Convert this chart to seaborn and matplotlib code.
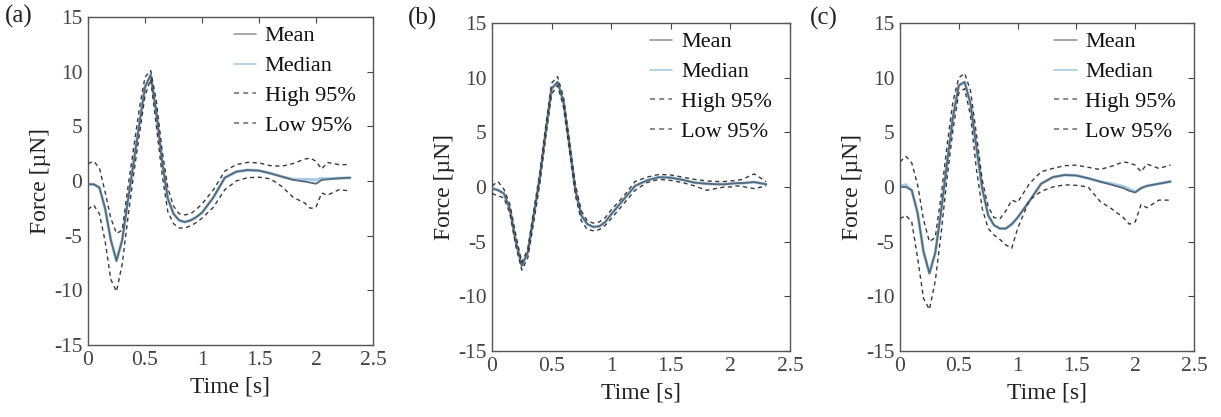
import numpy as np
import pandas as pd
import seaborn as sns
import matplotlib.pyplot as plt

# shared time base (s)
time = [0, .05, .1, .15, .2, .25, .3, .35, .4, .45, .5, .55, .6, .65, .7, .75, .8, .85, .9, .95,
        1.0, 1.1, 1.2, 1.3, 1.4, 1.5, 1.6, 1.7, 1.8, 1.9, 1.95, 2.0, 2.05, 2.1, 2.2, 2.3]

# panel (a)
mean_a = [-0.3, -0.3, -0.6, -2.5, -5.4, -7.3, -5.4, -1.8, 1.7, 5.2, 8.6, 9.7, 6.2, 1.8, -1.6, -3.0,
          -3.6, -3.75, -3.6, -3.3, -2.9, -1.5, 0.3, 0.85, 1.0, 0.95, 0.7, 0.4, 0.1, -0.05, -0.15, -0.25,
          0.1, 0.15, 0.25, 0.3]
median_a = [-0.3, -0.3, -0.6, -2.5, -5.4, -7.3, -5.4, -1.8, 1.7, 5.2, 8.6, 9.7, 6.2, 1.8, -1.6, -3.0,
            -3.6, -3.75, -3.6, -3.3, -2.9, -1.5, 0.3, 0.85, 1.0, 0.95, 0.7, 0.4, 0.15, 0.15, 0.15, 0.1,
            0.25, 0.2, 0.25, 0.3]
high_a = [1.6, 1.8, 1.2, -1.0, -3.4, -4.8, -4.5, -0.6, 3.0, 6.6, 9.5, 10.1, 7.3, 2.8, -0.6, -2.3,
          -3.0, -3.1, -3.0, -2.6, -2.1, -0.8, 0.9, 1.5, 1.7, 1.65, 1.4, 1.35, 1.6, 2.0, 2.1, 1.8,
          1.1, 1.7, 1.5, 1.5]
low_a = [-2.6, -2.2, -3.0, -5.5, -9.0, -10.1, -7.6, -3.4, 0.6, 4.2, 7.8, 9.3, 5.0, 0.6, -2.8, -3.9,
         -4.3, -4.3, -4.1, -3.8, -3.4, -2.4, -0.8, 0.0, 0.3, 0.35, 0.2, -0.5, -1.5, -2.0, -2.5, -2.4,
         -1.1, -1.3, -0.8, -0.9]

# panel (b)
mean_b = [-0.15, -0.3, -0.6, -2.0, -5.0, -7.2, -6.0, -2.6, 0.8, 5.0, 9.0, 9.6, 7.8, 3.8, -0.3, -2.6,
          -3.4, -3.65, -3.6, -3.2, -2.5, -1.2, 0.1, 0.6, 0.9, 0.85, 0.65, 0.4, 0.3, 0.25, 0.25, 0.3,
          0.35, 0.35, 0.45, 0.25]
median_b = [-0.1, -0.25, -0.6, -2.0, -5.0, -7.2, -6.0, -2.6, 0.8, 5.0, 9.0, 9.6, 7.8, 3.8, -0.3, -2.6,
            -3.4, -3.65, -3.6, -3.2, -2.5, -1.2, 0.1, 0.6, 0.9, 0.85, 0.65, 0.4, 0.3, 0.25, 0.25, 0.3,
            0.35, 0.35, 0.45, 0.25]
high_b = [0.1, 0.5, -0.2, -1.6, -4.4, -6.9, -5.7, -2.2, 1.2, 5.5, 9.5, 10.1, 8.2, 4.2, 0.2, -2.2,
          -3.1, -3.3, -3.2, -2.8, -2.1, -0.9, 0.5, 0.9, 1.15, 1.1, 0.9, 0.7, 0.55, 0.5, 0.5, 0.55,
          0.6, 0.7, 1.2, 0.5]
low_b = [-0.6, -0.8, -1.0, -2.4, -5.4, -7.6, -6.5, -3.2, 0.2, 4.5, 8.5, 9.3, 7.3, 3.3, -0.8, -3.1,
         -3.9, -4.0, -3.9, -3.5, -2.9, -1.6, -0.3, 0.4, 0.7, 0.6, 0.4, 0.1, -0.3, -0.1, 0.0, 0.0,
         0.1, 0.05, -0.15, 0.1]

# panel (c)
mean_c = [0.0, 0.0, -0.3, -2.4, -5.9, -7.9, -6.0, -2.2, 2.2, 6.4, 9.3, 9.6, 7.6, 3.6, -0.2, -2.6,
          -3.5, -3.8, -3.8, -3.4, -2.8, -1.3, 0.3, 0.9, 1.1, 1.05, 0.8, 0.5, 0.2, -0.1, -0.35, -0.5,
          -0.1, 0.1, 0.3, 0.5]
median_c = [0.1, 0.2, -0.3, -2.4, -5.9, -7.9, -6.0, -2.2, 2.2, 6.4, 9.3, 9.6, 7.6, 3.6, -0.2, -2.6,
            -3.5, -3.8, -3.8, -3.4, -2.8, -1.3, 0.3, 0.9, 1.1, 1.05, 0.8, 0.5, 0.3, 0.05, -0.2, -0.45,
            -0.1, 0.1, 0.3, 0.5]
high_c = [2.3, 2.8, 2.2, 0.2, -3.0, -5.0, -4.6, -0.8, 3.8, 7.8, 10.0, 10.4, 8.8, 4.8, 0.6, -1.8,
          -2.8, -2.9, -2.2, -1.2, -1.4, 0.3, 1.4, 1.7, 1.95, 2.0, 1.8, 1.6, 1.9, 2.3, 2.2, 2.0,
          1.4, 2.1, 1.7, 2.0]
low_c = [-2.9, -2.6, -3.2, -6.5, -10.2, -11.2, -8.6, -4.2, 0.8, 5.2, 8.6, 9.0, 6.5, 1.6, -2.0, -3.8,
         -4.4, -4.8, -5.3, -5.6, -3.8, -1.2, -0.4, 0.0, 0.2, 0.15, 0.0, -1.3, -2.0, -2.8, -3.4, -3.2,
         -1.6, -1.9, -1.2, -1.2]

panels = [
    ('(a)', mean_a, median_a, high_a, low_a),
    ('(b)', mean_b, median_b, high_b, low_b),
    ('(c)', mean_c, median_c, high_c, low_c),
]

sns.set_theme(style='white')
plt.rcParams['font.family'] = ['Liberation Serif', 'DejaVu Serif']
plt.rcParams['axes.unicode_minus'] = False

fig = plt.figure(figsize=(12.21, 4.17), dpi=100)
# axes boxes in pixels (left, bottom, width, height) from the reference
boxes = [(88, 417 - 345, 285, 328), (492, 417 - 351, 298, 328), (900, 417 - 351, 294, 328)]
label_pos = [(5, 412), (408, 410), (810, 410)]

spine_col = '#555555'
tick_col = '#444444'
dash = (0, (3, 2.5))

for (tag, mean, median, high, low), box, lp in zip(panels, boxes, label_pos):
    l, b, w, h = box
    ax = fig.add_axes([l / 1221, b / 417, w / 1221, h / 417])
    df = pd.DataFrame({'t': time, 'Mean': mean, 'Median': median, 'High 95%': high, 'Low 95%': low})
    sns.lineplot(data=df, x='t', y='Median', ax=ax, color='#a6cde3', linewidth=2.2, label='Median', zorder=2)
    sns.lineplot(data=df, x='t', y='Mean', ax=ax, color='#56687a', linewidth=1.3, label='Mean', zorder=3)
    sns.lineplot(data=df, x='t', y='High 95%', ax=ax, color='#3a3a3a', linewidth=1.0,
                 label='High 95%', zorder=4)
    sns.lineplot(data=df, x='t', y='Low 95%', ax=ax, color='#3a3a3a', linewidth=1.0,
                 label='Low 95%', zorder=4)
    ax.lines[2].set_linestyle(dash)
    ax.lines[3].set_linestyle(dash)

    ax.set_xlim(0, 2.5)
    ax.set_ylim(-15, 15)
    ax.set_xticks([0, 0.5, 1, 1.5, 2, 2.5])
    ax.set_xticklabels(['0', '0.5', '1', '1.5', '2', '2.5'])
    ax.set_yticks([-15, -10, -5, 0, 5, 10, 15])
    ax.tick_params(direction='in', length=4, width=0.8, top=True, right=True,
                   labelsize=15.5, colors=tick_col, pad=4)
    for s in ax.spines.values():
        s.set_color(spine_col)
        s.set_linewidth(1.0)
    ax.set_xlabel('Time [s]', fontsize=17, color='#222222', labelpad=5)
    ax.set_ylabel('Force [\u00b5N]', fontsize=17, color='#222222', labelpad=2)

    # legend order: Mean, Median, High, Low
    handles, labels = ax.get_legend_handles_labels()
    order = [labels.index(k) for k in ['Mean', 'Median', 'High 95%', 'Low 95%']]
    leg = ax.legend([handles[i] for i in order], [labels[i] for i in order],
                    loc='upper right', frameon=False, fontsize=16, handlelength=1.0,
                    handletextpad=0.4, labelspacing=0.42, borderaxespad=0.0,
                    bbox_to_anchor=(0.97, 1.0))
    for txt in leg.get_texts():
        txt.set_color('#111111')
    lines = leg.get_lines()
    lines[0].set_color('#9a9a9a')
    for ln in lines:
        ln.set_linewidth(1.2)
    for ln in lines[2:]:
        ln.set_color('#777777')

    fig.text(lp[0] / 1221, lp[1] / 417, tag, fontsize=18, color='#222222', va='top', ha='left')

fig.savefig('out.png', dpi=100)
